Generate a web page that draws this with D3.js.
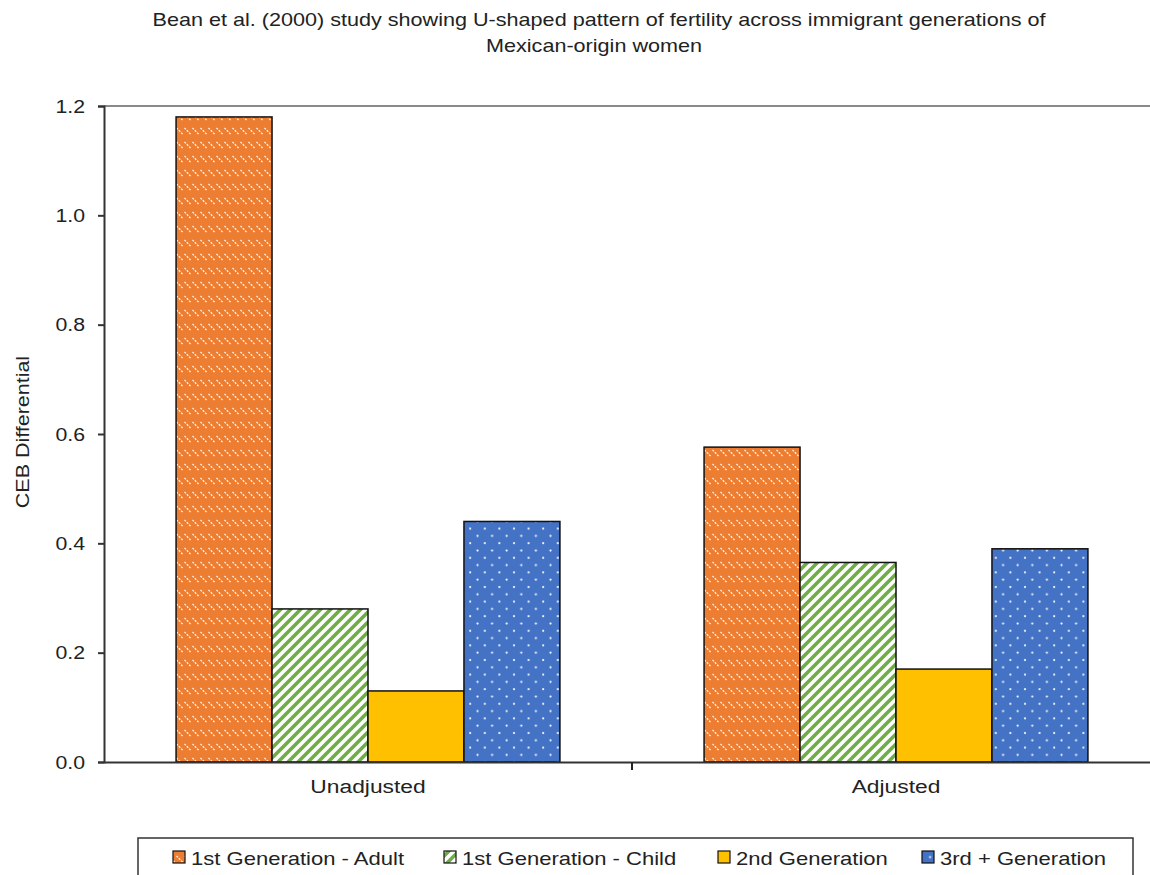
<!DOCTYPE html>
<html>
<head>
<meta charset="utf-8">
<script src="https://cdn.jsdelivr.net/npm/d3@7"></script>
<style>
  html, body { margin: 0; padding: 0; background: #fff; }
  svg { display: block; font-family: "Liberation Sans", Arial, sans-serif; }
</style>
</head>
<body>
<svg id="chart" width="1150" height="875"></svg>
<script>
// Data
const groups = ["Unadjusted", "Adjusted"];
const seriesNames = ["1st Generation - Adult", "1st Generation - Child", "2nd Generation", "3rd + Generation"];
const adultValues = [1.18, 0.576];
const childValues = [0.28, 0.365];
const secondGenValues = [0.13, 0.17];
const thirdGenValues = [0.44, 0.39];
const yTicks = [0.0, 0.2, 0.4, 0.6, 0.8, 1.0, 1.2];
const titleLines = [
  "Bean et al. (2000) study showing U-shaped pattern of fertility across immigrant generations of",
  "Mexican-origin women"
];
const yLabel = "CEB Differential";

const seriesValues = [adultValues, childValues, secondGenValues, thirdGenValues];
const fillColors = ["#ED7D31", "#70AD47", "#FFC000", "#4472C4"];
const fillIds = ["pat-adult", "pat-child", "solid", "pat-third"];

const svg = d3.select("#chart");
const margin = { left: 104, right: -10, top: 106, bottom: 113 };
const W = 1150, H = 875;
const x0 = margin.left, x1 = W - margin.right;
const yTop = margin.top, yBot = H - margin.bottom;
const textColor = "#222";

// Patterns
const defs = svg.append("defs");

// Orange: short dotted backslash dashes in rows
const pA = defs.append("pattern").attr("id", "pat-adult")
  .attr("patternUnits", "userSpaceOnUse").attr("width", 8).attr("height", 14);
pA.append("rect").attr("width", 8).attr("height", 14).attr("fill", fillColors[0]);
pA.append("line").attr("x1", 0.5).attr("y1", 2).attr("x2", 7).attr("y2", 8.5)
  .attr("stroke", "#fff").attr("stroke-width", 1.3).attr("stroke-dasharray", "2,1.3").attr("opacity", 0.9);

// Green: wide forward diagonal stripes on white
const pC = defs.append("pattern").attr("id", "pat-child")
  .attr("patternUnits", "userSpaceOnUse").attr("width", 10).attr("height", 10);
pC.append("rect").attr("width", 10).attr("height", 10).attr("fill", "#fff");
pC.append("path").attr("d", "M-2,12 L12,-2 M-7,7 L7,-7 M3,17 L17,3")
  .attr("stroke", fillColors[1]).attr("stroke-width", 3.6);

// Blue: staggered white dots
const pT = defs.append("pattern").attr("id", "pat-third")
  .attr("patternUnits", "userSpaceOnUse").attr("width", 14.6).attr("height", 14.6);
pT.append("rect").attr("width", 14.6).attr("height", 14.6).attr("fill", fillColors[3]);
pT.append("circle").attr("cx", 3).attr("cy", 3).attr("r", 1.1).attr("fill", "#fff");
pT.append("circle").attr("cx", 10.3).attr("cy", 10.3).attr("r", 1.1).attr("fill", "#fff");

function fillFor(i) {
  return fillIds[i] === "solid" ? fillColors[i] : `url(#${fillIds[i]})`;
}

// Scales
const x = d3.scaleBand().domain(groups).range([x0, x1]).paddingInner(0).paddingOuter(0);
const groupInner = 0.727;
const xs = d3.scaleBand().domain(d3.range(seriesNames.length))
  .range([0, x.bandwidth() * groupInner]).padding(0);
const y = d3.scaleLinear().domain([0, 1.2]).range([yBot, yTop]);

// Top frame line
svg.append("line").attr("x1", x0).attr("x2", x1).attr("y1", yTop).attr("y2", yTop)
  .attr("stroke", "#8a8a8a").attr("stroke-width", 2);

// Bars
groups.forEach((g, gi) => {
  const gx = x(g) + (x.bandwidth() * (1 - groupInner)) / 2;
  seriesValues.forEach((vals, si) => {
    svg.append("rect")
      .attr("x", gx + xs(si))
      .attr("y", y(vals[gi]))
      .attr("width", xs.bandwidth())
      .attr("height", y(0) - y(vals[gi]))
      .attr("fill", fillFor(si))
      .attr("stroke", "#111")
      .attr("stroke-width", 1.5);
  });
});

// Y axis
const yAxis = svg.append("g").attr("transform", `translate(${x0},0)`)
  .call(d3.axisLeft(y).tickValues(yTicks).tickFormat(d3.format(".1f")).tickSize(6).tickPadding(12));
yAxis.select(".domain").attr("stroke", "#333").attr("stroke-width", 2);
yAxis.selectAll(".tick line").attr("stroke", "#333").attr("stroke-width", 2);
yAxis.selectAll(".tick text").attr("font-size", 19).attr("fill", textColor)
  .attr("font-family", "Liberation Sans, Arial, sans-serif")
  .attr("x", 0).attr("transform", "translate(-19,0) scale(1.12,1)");

// X axis
const xAxis = svg.append("g").attr("transform", `translate(0,${yBot})`)
  .call(d3.axisBottom(x).tickSize(0).tickPadding(18));
xAxis.select(".domain").attr("stroke", "#333").attr("stroke-width", 2);
xAxis.selectAll(".tick text").attr("font-size", 19).attr("fill", textColor)
  .attr("font-family", "Liberation Sans, Arial, sans-serif")
  .attr("transform", "scale(1.2,1)");
// separator tick between categories
svg.append("line").attr("x1", x(groups[1])).attr("x2", x(groups[1]))
  .attr("y1", yBot).attr("y2", yBot + 8).attr("stroke", "#222").attr("stroke-width", 2);

// Title
svg.append("g").selectAll("text").data(titleLines).join("text")
  .attr("transform", (d, i) => `translate(${i === 0 ? 599 : 594},${26 + i * 26}) scale(1.2,1)`)
  .attr("text-anchor", "middle").attr("font-size", 18).attr("fill", textColor)
  .text(d => d);

// Y label
svg.append("text")
  .attr("transform", `translate(29,${432}) rotate(-90) scale(1.13,1)`)
  .attr("text-anchor", "middle").attr("font-size", 19).attr("fill", textColor)
  .text(yLabel);

// Legend
const legend = svg.append("g");
legend.append("rect").attr("x", 138).attr("y", 838).attr("width", 995).attr("height", 60)
  .attr("fill", "#fff").attr("stroke", "#333").attr("stroke-width", 1.5);
const legendX = [173, 444, 718, 922];
seriesNames.forEach((name, i) => {
  legend.append("rect").attr("x", legendX[i]).attr("y", 851).attr("width", 12).attr("height", 12)
    .attr("fill", fillFor(i)).attr("stroke", "#111").attr("stroke-width", 1.2);
  legend.append("text")
    .attr("transform", `translate(${legendX[i] + 18},864.5) scale(1.16,1)`)
    .attr("font-size", 19).attr("fill", textColor).text(name);
});
</script>
</body>
</html>
